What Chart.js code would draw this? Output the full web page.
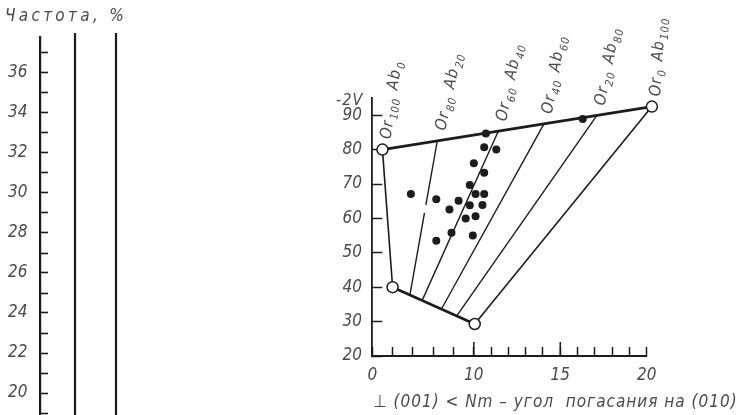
<!DOCTYPE html>
<html lang="ru">
<head>
<meta charset="utf-8">
<title>Угол погасания и -2V</title>
<script src="https://cdn.jsdelivr.net/npm/chart.js@4.4.1/dist/chart.umd.min.js"></script>
<style>
  html, body { margin: 0; padding: 0; background: #fff; }
  body { width: 741px; height: 415px; position: relative; overflow: hidden; }
  #left { position: absolute; left: 0; top: 0; }
  #right { position: absolute; left: 300px; top: 0; }
</style>
</head>
<body>
<canvas id="left" width="200" height="415"></canvas>
<canvas id="right" width="441" height="415"></canvas>
<script>
// ---------- левая панель: частота, % ----------
const freqLabels = [20, 22, 24, 26, 28, 30, 32, 34, 36];   // подписанные деления
const freqMin = 18.9, freqMax = 37.8;                        // видимая часть шкалы
const columnEdges = [1.75, 3.8];                             // стороны столбца (условная ось)
const columnTop = 38;                                        // верх столбца за рамкой

// ---------- правая панель: угол погасания / -2V ----------
const xTickValues = [0, 2, 4, 6, 8, 10, 11, 12, 13, 14, 15, 16, 17, 18, 19, 20];
const xTickLabels = [0, 10, 15, 20];
const xLongTicks = [10, 15];
const yTickLabels = [20, 30, 40, 50, 60, 70, 80, 90];

// вершины: Or100 верх, Or0 верх, Or0 низ, Or100 низ
const vertexX = [1.0, 20.3, 10.05, 2.0];
const vertexY = [80.0, 92.5, 29.3, 40.0];

// содержание Or на подписях (Ab = 100 - Or)
const orContent = [100, 80, 60, 40, 20, 0];

// промежуточные изолинии Or80, Or60, Or40, Or20
const isoBottomX = [3.7, 4.9, 6.8, 8.3];
const isoBottomY = [37.7, 36.1, 33.6, 31.6];
const isoTopX = [6.4, 11.4, 14.05, 17.1];
const isoTopY = [82.5, 85.2, 87.4, 89.8];
// разрыв линии Or80 (по -2V)
const or80Gap = [61.6, 63.9];

// точки измерений
const sampleX = [10.7, 10.6, 11.3, 10.0, 10.6, 9.6, 10.1, 10.6, 6.3, 8.5, 7.6, 9.6, 10.5, 9.2, 10.1, 7.8, 9.9, 6.3, 3.8, 16.3];
const sampleY = [84.7, 80.7, 80.0, 76.0, 73.3, 69.7, 67.1, 67.1, 65.6, 65.1, 62.6, 63.8, 63.9, 60.0, 60.6, 55.8, 55.0, 53.5, 67.1, 88.9];

// оформление
const fontFam = "'DejaVu Sans Condensed', 'Liberation Sans Narrow', 'DejaVu Sans', sans-serif";
const inkColor = '#1c1c1c';
const textColor = '#4a4a4a';
const labelTilt = [82, 78, 78, 80, 79, 86];   // наклон подписей, градусы

// ось X на рисунке неравномерная: 0–10 сжат сильнее, чем 10–20
const xBreak = 10;
const xBreakShare = 0.37;

class BrokenScale extends Chart.LinearScale {
    toShare(v) {
        if (v <= xBreak) return (v - this.min) / (xBreak - this.min) * xBreakShare;
        return xBreakShare + (v - xBreak) / (this.max - xBreak) * (1 - xBreakShare);
    }
    getPixelForValue(v) {
        return v == null ? NaN : this.getPixelForDecimal(this.toShare(v));
    }
    getValueForPixel(p) {
        const d = this.getDecimalForPixel(p);
        if (d <= xBreakShare) return this.min + d / xBreakShare * (xBreak - this.min);
        return xBreak + (d - xBreakShare) / (1 - xBreakShare) * (this.max - xBreak);
    }
}
BrokenScale.id = 'broken';
Chart.register(BrokenScale);

function pts(xs, ys) {
    return xs.map((x, i) => ({ x: x, y: ys[i] }));
}

function noPad(s) {
    s.paddingTop = 0; s.paddingBottom = 0; s.paddingLeft = 0; s.paddingRight = 0;
}

// заголовок левой панели — с разрядкой, как в книге
const leftTitlePlugin = {
    id: 'zagolovok',
    afterDraw(chart) {
        const ctx = chart.ctx;
        ctx.save();
        ctx.fillStyle = textColor;
        ctx.font = `italic 17px ${fontFam}`;
        ctx.letterSpacing = '3.3px';
        ctx.textAlign = 'left';
        ctx.textBaseline = 'middle';
        ctx.fillText('Частота, %', 5, 17);
        ctx.restore();
    }
};

// ---------- левая диаграмма ----------
new Chart(document.getElementById('left'), {
    type: 'scatter',
    data: {
        datasets: columnEdges.map(x => ({
            data: [{ x: x, y: freqMin }, { x: x, y: columnTop }],
            showLine: true,
            borderColor: inkColor,
            borderWidth: 2.2,
            pointRadius: 0,
            clip: false
        }))
    },
    options: {
        responsive: false,
        animation: false,
        events: [],
        layout: { padding: { left: 5, right: 20, top: 37, bottom: 0 } },
        plugins: { legend: { display: false }, tooltip: { enabled: false } },
        scales: {
            x: { display: false, min: 0, max: 7 },
            y: {
                min: freqMin,
                max: freqMax,
                afterFit: s => { s.width = 35; noPad(s); },
                afterBuildTicks: s => {
                    const t = [];
                    for (let v = 19; v <= 37; v++) t.push({ value: v });
                    s.ticks = t;
                },
                border: { color: inkColor, width: 2.2 },
                grid: { drawOnChartArea: false, tickLength: -8, tickColor: inkColor, tickWidth: 1.6 },
                ticks: {
                    autoSkip: false,
                    padding: 20.5,
                    color: textColor,
                    font: { family: fontFam, size: 17, style: 'italic' },
                    callback: v => freqLabels.includes(v) ? String(v) : ''
                }
            }
        }
    },
    plugins: [leftTitlePlugin]
});

// ---------- подписи правой диаграммы ----------
function drawComposition(ctx, or) {
    const parts = [['Or', false], [String(or), true], [' Ab', false], [String(100 - or), true]];
    let x = 0;
    for (const [s, sub] of parts) {
        ctx.font = sub ? `italic 11px ${fontFam}` : `italic 16px ${fontFam}`;
        ctx.fillText(s, x, sub ? 4 : 0);
        x += ctx.measureText(s).width + (sub ? 2 : 1);
    }
}

const labelsPlugin = {
    id: 'podpisi',
    afterDraw(chart) {
        const { ctx, scales: { x, y } } = chart;
        ctx.save();

        // удлинённые деления на 10 и 15
        ctx.strokeStyle = inkColor;
        ctx.lineWidth = 1.5;
        xLongTicks.forEach(v => {
            const px = x.getPixelForValue(v);
            ctx.beginPath();
            ctx.moveTo(px, x.top);
            ctx.lineTo(px, x.top - 14);
            ctx.stroke();
        });

        ctx.fillStyle = textColor;
        ctx.textBaseline = 'alphabetic';
        ctx.letterSpacing = '1px';

        // -2V над осью
        ctx.font = `italic 16px ${fontFam}`;
        ctx.textAlign = 'right';
        ctx.fillText('-2V', y.right - 9, y.getPixelForValue(90) - 10);

        // составы Or–Ab у верхней стороны
        ctx.textAlign = 'left';
        const ax = [vertexX[0], ...isoTopX, vertexX[1]];
        const ay = [vertexY[0], ...isoTopY, vertexY[1]];
        orContent.forEach((or, i) => {
            ctx.save();
            ctx.translate(x.getPixelForValue(ax[i]) + 8, y.getPixelForValue(ay[i]) - 10);
            ctx.rotate(-labelTilt[i] * Math.PI / 180);
            drawComposition(ctx, or);
            ctx.restore();
        });

        // подпись оси X
        ctx.font = `italic 17px ${fontFam}`;
        ctx.textBaseline = 'middle';
        ctx.fillText('\u22A5 (001) < Nm \u2013 угол  погасания на (010)', x.left + 1, 403);
        ctx.restore();
    }
};

// ---------- правая диаграмма ----------
const lineSet = (data, w) => ({
    data: data, showLine: true, spanGaps: false, borderColor: inkColor, borderWidth: w,
    pointRadius: 0, clip: false, order: 5
});

// точка на изолинии при заданном -2V (изолинии Or80 лежат в левой части шкалы)
function isoPointAt(i, yv) {
    const t = (yv - isoBottomY[i]) / (isoTopY[i] - isoBottomY[i]);
    return { x: isoBottomX[i] + t * (isoTopX[i] - isoBottomX[i]), y: yv };
}

const rightSets = [
    {
        data: pts(sampleX, sampleY),
        pointRadius: 4, backgroundColor: inkColor, borderWidth: 0,
        clip: false, order: 0
    },
    {
        data: pts(vertexX, vertexY),
        pointRadius: 5.5, backgroundColor: '#ffffff', borderColor: inkColor, borderWidth: 1.5,
        clip: false, order: 1
    },
    lineSet(pts([vertexX[0], vertexX[1]], [vertexY[0], vertexY[1]]), 2.6),
    lineSet(pts([vertexX[3], vertexX[2]], [vertexY[3], vertexY[2]]), 2.6),
    lineSet(pts([vertexX[0], vertexX[3]], [vertexY[0], vertexY[3]]), 1.6),
    lineSet(pts([vertexX[2], vertexX[1]], [vertexY[2], vertexY[1]]), 1.6)
];
isoTopX.forEach((tx, i) => {
    const lo = { x: isoBottomX[i], y: isoBottomY[i] };
    const hi = { x: tx, y: isoTopY[i] };
    const data = i === 0
        ? [lo, isoPointAt(0, or80Gap[0]), { x: null, y: null }, isoPointAt(0, or80Gap[1]), hi]
        : [lo, hi];
    rightSets.push(lineSet(data, 1.4));
});

new Chart(document.getElementById('right'), {
    type: 'scatter',
    data: { datasets: rightSets },
    options: {
        responsive: false,
        animation: false,
        events: [],
        layout: { padding: { left: 0, right: 94.3, top: 98, bottom: 0 } },
        plugins: { legend: { display: false }, tooltip: { enabled: false } },
        scales: {
            x: {
                type: 'broken',
                min: 0,
                max: 20,
                afterFit: s => { s.height = 59; noPad(s); },
                afterBuildTicks: s => { s.ticks = xTickValues.map(v => ({ value: v })); },
                border: { color: inkColor, width: 2 },
                grid: { drawOnChartArea: false, tickLength: -9, tickColor: inkColor, tickWidth: 1.5 },
                ticks: {
                    autoSkip: false,
                    maxRotation: 0,
                    padding: 18.3,
                    color: textColor,
                    font: { family: fontFam, size: 17, style: 'italic' },
                    callback: v => xTickLabels.includes(v) ? String(v) : ''
                }
            },
            y: {
                min: 20,
                max: 95,
                afterFit: s => { s.width = 72.3; noPad(s); },
                afterBuildTicks: s => { s.ticks = yTickLabels.map(v => ({ value: v })); },
                border: { color: inkColor, width: 1.8 },
                grid: { drawOnChartArea: false, tickLength: -10, tickColor: inkColor, tickWidth: 1.5 },
                ticks: {
                    autoSkip: false,
                    padding: 20.3,
                    color: textColor,
                    font: { family: fontFam, size: 17, style: 'italic' }
                }
            }
        }
    },
    plugins: [labelsPlugin]
});
</script>
</body>
</html>
